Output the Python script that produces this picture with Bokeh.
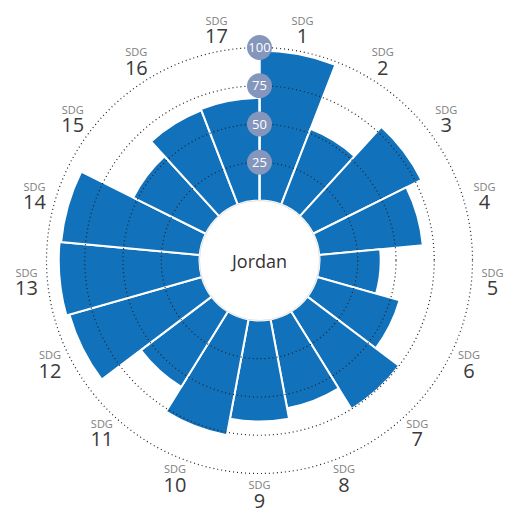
import numpy as np
from bokeh.plotting import figure
from bokeh.models import ColumnDataSource
from bokeh.core.properties import value
from bokeh.embed import file_html
from bokeh.resources import INLINE

# ---- data ----
goals = [str(i) for i in range(1, 18)]
scores = [98, 53, 79, 68, 40, 56, 75, 59, 66, 77, 58, 90, 92, 91, 53, 66, 67]
grid_levels = [25, 50, 75, 100]
grid_labels = ["25", "50", "75", "100"]
country = "Jordan"

# ---- geometry ----
R0 = 60.0        # inner radius (value 0)
K = 1.53         # px per unit
def rad(v):
    return R0 + K * np.asarray(v, dtype=float)

n = len(goals)
w = 2 * np.pi / n
idx = np.arange(n)
start = np.pi / 2 - (idx + 1) * w
end = np.pi / 2 - idx * w
mid = (start + end) / 2

W, H = 516, 514
cx, cy = 259, 260
p = figure(width=W, height=H, x_range=(-cx, W - cx), y_range=(-(H - cy), cy),
           output_backend="svg", toolbar_location=None, min_border=0)
p.axis.visible = False
p.grid.visible = False
p.outline_line_color = None
p.background_fill_color = "white"

src = ColumnDataSource(dict(start=start, end=end, outer=rad(scores)))
p.annular_wedge(x=0, y=0, inner_radius=R0, outer_radius="outer",
                start_angle="start", end_angle="end", source=src,
                fill_color="#1171ba", line_color="white", line_width=2)

# vertical white axis line
p.segment(x0=[0], y0=[R0], x1=[0], y1=[rad(100)], line_color="white", line_width=2)

# dotted grid circles
for lv in grid_levels:
    p.circle(x=0, y=0, radius=float(rad(lv)), fill_color=None,
             line_color="#222222", line_dash="1 3", line_width=1.2)

# inner white circle
p.circle(x=0, y=0, radius=R0, fill_color="white", line_color="#cccccc", line_width=0.6)
p.text(x=[0], y=[0], text=[country], text_align="center", text_baseline="middle",
       text_font=value("Open Sans"), text_font_size="18px", text_color="#333333")

# badges
p.circle(x=[0] * 4, y=list(rad(grid_levels)), radius=12.5,
         fill_color="#8596bd", line_color=None)
p.text(x=[0] * 4, y=list(rad(grid_levels)), text=grid_labels, text_align="center",
       text_baseline="middle", text_font=value("Open Sans"), text_font_size="13px",
       text_color="white")

# outer labels
RL = 234
lx = RL * np.cos(mid)
ly = RL * np.sin(mid)
p.text(x=list(lx), y=list(ly + 10), text=["SDG"] * n, text_align="center",
       text_baseline="middle", text_font=value("Open Sans"), text_font_size="11px",
       text_color="#808080")
p.text(x=list(lx), y=list(ly - 6), text=goals, text_align="center",
       text_baseline="middle", text_font=value("Open Sans"), text_font_size="20px",
       text_color="#3a3a3a")

open("out.html", "w").write(file_html(p, INLINE))
